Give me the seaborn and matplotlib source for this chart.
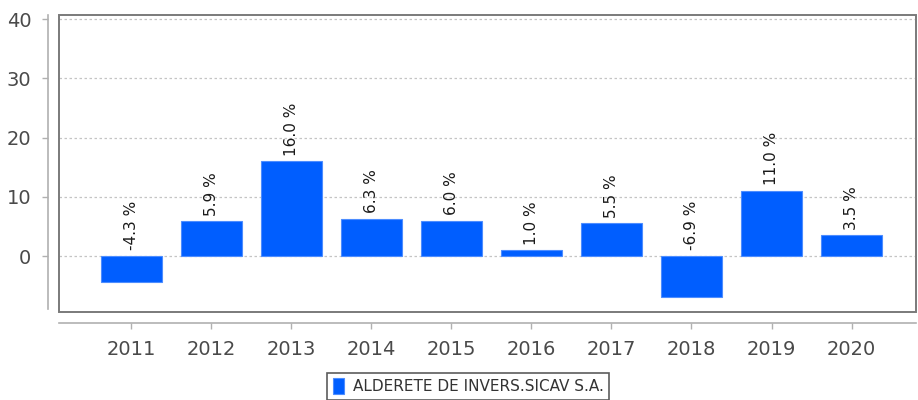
import pandas as pd
import matplotlib.pyplot as plt
import seaborn as sns
from matplotlib.patches import Rectangle

# Datos del gráfico
anios = ['2011', '2012', '2013', '2014', '2015', '2016', '2017', '2018', '2019', '2020']
rentabilidad = [-4.3, 5.9, 16.0, 6.3, 6.0, 1.0, 5.5, -6.9, 11.0, 3.5]
fondo = 'ALDERETE DE INVERS.SICAV S.A.'

df = pd.DataFrame({'Año': anios, 'Rentabilidad': rentabilidad, 'Fondo': fondo})

sns.set_style('white')
plt.rcParams['font.family'] = ['DejaVu Sans']

fig = plt.figure(figsize=(9.18, 4), dpi=100)
ax = fig.add_axes([0.0643, 0.22, 0.934, 0.7425])

sns.barplot(data=df, x='Año', y='Rentabilidad', hue='Fondo', palette=['#005EFF'],
            width=0.76, saturation=1, edgecolor='#4d8dff', linewidth=0.8, ax=ax, zorder=3)

# Etiquetas de valor sobre las barras
for i, v in enumerate(rentabilidad):
    ax.annotate(f'{v:.1f} %', (i, max(v, 0)), xytext=(0, 4), textcoords='offset points',
                rotation=90, ha='center', va='bottom', fontsize=11, color='#1a1a1a', zorder=4)

ax.set_xlim(-0.9, 9.81)
ax.set_ylim(-9.45, 40.7)
ax.set_yticks([0, 10, 20, 30, 40])
ax.set_xlabel('')
ax.set_ylabel('')

# Rejilla horizontal discontinua
ax.yaxis.grid(True, color='#c4c4c4', linestyle=(0, (2, 2)), linewidth=0.9, zorder=0)
ax.xaxis.grid(False)
ax.set_axisbelow(True)

# Ejes separados del marco
for s in ['left', 'bottom']:
    ax.spines[s].set_position(('outward', 8))
    ax.spines[s].set_color('#b0b0b0')
    ax.spines[s].set_linewidth(1.2)
ax.spines['left'].set_bounds(-9.0, 40.7)
ax.spines['top'].set_visible(False)
ax.spines['right'].set_visible(False)
ax.add_patch(Rectangle((0, 0), 1, 1, transform=ax.transAxes, fill=False,
                       edgecolor='#7a7a7a', linewidth=1.4, clip_on=False, zorder=5))

ax.tick_params(axis='both', which='both', length=4, width=1, color='#b0b0b0',
               labelsize=14, labelcolor='#4a4a4a', pad=8, left=True, bottom=True)

# Leyenda
handles, labels = ax.get_legend_handles_labels()
ax.legend(handles, labels, loc='upper center', bbox_to_anchor=(0.51, 0.0675),
          bbox_transform=fig.transFigure, frameon=True, fancybox=False, borderaxespad=0,
          edgecolor='#333333', fontsize=11, handlelength=0.7, handleheight=1.2,
          handletextpad=0.6, borderpad=0.35, labelcolor='#333333')
ax.get_legend().get_frame().set_linewidth(1.2)

plt.savefig('out.png', dpi=100)
